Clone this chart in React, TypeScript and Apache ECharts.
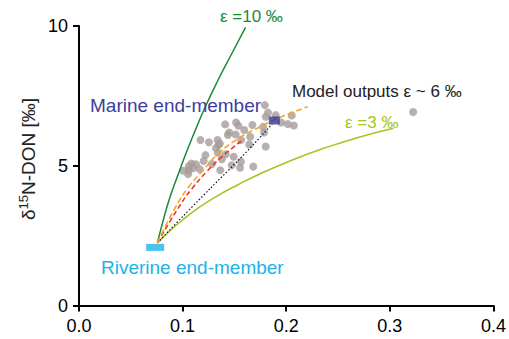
import React, { useEffect, useRef } from "react";
import * as echarts from "echarts";

// x ticks / y ticks
const xTicks = [0, 0.1, 0.2, 0.3, 0.4];
const yTicks = [0, 5, 10];

// observed samples [x, δ15N-DON]
const samples: number[][] = [
  [0.1793, 7.17], [0.1824, 6.9], [0.1802, 6.75], [0.1898, 6.81], [0.1951, 6.55],
  [0.2015, 6.49], [0.2073, 6.44], [0.2053, 6.8], [0.1777, 6.39], [0.1786, 6.19],
  [0.1802, 5.69], [0.1681, 4.97], [0.3225, 6.92], [0.1411, 6.48], [0.1516, 6.55],
  [0.1538, 6.43], [0.1674, 6.46], [0.1595, 6.28], [0.1449, 6.19], [0.1436, 6.1],
  [0.1512, 6.12], [0.1652, 6.04], [0.1172, 5.92], [0.1254, 5.84], [0.1337, 5.92],
  [0.1359, 5.8], [0.1347, 5.74], [0.1321, 5.63], [0.1564, 5.92], [0.1643, 5.76],
  [0.134, 5.46], [0.1416, 5.41], [0.122, 5.38], [0.1493, 5.32], [0.1203, 5.17],
  [0.1378, 5.23], [0.1086, 5.08], [0.113, 5.05], [0.106, 4.99], [0.1101, 4.91],
  [0.106, 4.84], [0.1006, 4.82], [0.1165, 4.88], [0.1283, 5.06], [0.1363, 4.84],
  [0.1474, 5.02], [0.1563, 5.14], [0.1554, 4.93], [0.1053, 4.7],
];

// curves
const eps10: number[][] = [
  [0.0757, 2.24], [0.082, 3.15], [0.088, 3.9], [0.095, 4.62], [0.103, 5.42],
  [0.112, 6.25], [0.122, 7.12], [0.134, 8.05], [0.147, 8.98], [0.1607, 9.95],
];
const eps3: number[][] = [
  [0.0757, 2.24], [0.087, 2.65], [0.0996, 3.05], [0.1156, 3.5], [0.1315, 3.88],
  [0.1538, 4.33], [0.1729, 4.68], [0.2047, 5.19], [0.2366, 5.63], [0.2684, 6.0],
  [0.3034, 6.34],
];
const modelOrange: number[][] = [
  [0.0757, 2.24], [0.0933, 3.53], [0.106, 4.25], [0.1203, 4.86], [0.1347, 5.44],
  [0.1538, 5.98], [0.1729, 6.36], [0.192, 6.7], [0.2206, 7.11],
];
const modelRed: number[][] = [
  [0.0757, 2.24], [0.0965, 3.53], [0.1092, 4.19], [0.1235, 4.8], [0.1378, 5.32],
  [0.1585, 5.94],
];
const mixingLine: number[][] = [
  [0.0757, 2.24], [0.1092, 3.53], [0.1442, 4.84], [0.1633, 5.56], [0.1865, 6.5],
];

const riverine: number[][] = [[0.0735, 2.08]];
const marine: number[][] = [[0.1885, 6.62]];

const FONT = "'Liberation Sans', Arial, Helvetica, sans-serif";

function txt(text: string, x: number, y: number, color: string, size: number) {
  return {
    type: "text",
    x,
    y,
    z: 20,
    style: {
      text,
      fill: color,
      font: `${size}px ${FONT}`,
      align: "left",
      verticalAlign: "middle",
      textAlign: "left",
      textVerticalAlign: "middle",
    },
  };
}

export default function App() {
  const ref = useRef<HTMLDivElement>(null);
  useEffect(() => {
    if (!ref.current) return;
    document.body.style.margin = "0";
    const chart = echarts.init(ref.current, undefined, { renderer: "svg" });
    const axisCommon = {
      splitLine: { show: false },
      axisLine: { show: true, onZero: false, lineStyle: { color: "#000", width: 2 } },
      axisTick: { show: true, inside: false, length: 6, lineStyle: { color: "#000", width: 2 } },
      axisLabel: { color: "#000", fontSize: 18, fontFamily: FONT, margin: 11 },
    };
    const line = (name: string, data: number[][], color: string, width: number, type: any) => ({
      name,
      type: "line",
      data,
      smooth: 0.5,
      showSymbol: false,
      symbol: "none",
      z: 3,
      lineStyle: { color, width, type },
    });
    chart.setOption({
      animation: false,
      grid: { left: 79, right: 11, top: 26, bottom: 33.5, containLabel: false },
      xAxis: {
        type: "value",
        min: xTicks[0],
        max: xTicks[xTicks.length - 1],
        interval: 0.1,
        ...axisCommon,
        axisLabel: { ...axisCommon.axisLabel, formatter: (v: number) => v.toFixed(1) },
      },
      yAxis: {
        type: "value",
        min: yTicks[0],
        max: yTicks[yTicks.length - 1],
        interval: 5,
        ...axisCommon,
      },
      series: [
        {
          name: "samples",
          type: "scatter",
          data: samples,
          symbolSize: 8,
          z: 2,
          itemStyle: { color: "#a69c9a" },
        },
        line("ε=10", eps10, "#1b8a3a", 1.5, "solid"),
        line("ε=3", eps3, "#a3c520", 1.5, "solid"),
        line("mixing", mixingLine, "#111", 1.2, [1.5, 2]),
        line("model red", modelRed, "#ee3522", 1.6, [5, 3]),
        line("model orange", modelOrange, "#f7a423", 1.6, [6, 3]),
        {
          name: "Riverine end-member",
          type: "scatter",
          data: riverine,
          symbol: "rect",
          symbolSize: [18, 7],
          z: 6,
          itemStyle: { color: "#19b4e8" },
        },
        {
          name: "Marine end-member",
          type: "scatter",
          data: marine,
          symbol: "rect",
          symbolSize: [11, 8],
          z: 6,
          itemStyle: { color: "#33339a" },
        },
      ],
      graphic: [
        txt("ε =10 ‰", 220, 16, "#1b8a3a", 17),
        txt("Model outputs ε ~ 6 ‰", 292, 91, "#222", 17),
        txt("ε =3 ‰", 345, 122, "#a3c520", 17),
        txt("Marine end-member", 90, 105, "#3d3d9e", 19),
        txt("Riverine end-member", 101, 267, "#1ab4e8", 19),
        {
          type: "text",
          x: 28,
          y: 159,
          rotation: Math.PI / 2,
          z: 20,
          style: {
            text: "{a|δ}{s|15}{a|N-DON [‰]}",
            fill: "#222",
            font: `19px ${FONT}`,
            align: "center",
            verticalAlign: "middle",
            textAlign: "center",
            textVerticalAlign: "middle",
            rich: {
              a: { fontSize: 19, lineHeight: 23, fontFamily: FONT, fill: "#222", color: "#222" },
              s: { fontSize: 13, lineHeight: 15, fontFamily: FONT, fill: "#222", color: "#222", verticalAlign: "top" },
            },
          },
        },
      ],
    });
    return () => chart.dispose();
  }, []);
  return (
    <div
      ref={ref}
      style={{ position: "absolute", left: 0, top: 0, width: 509, height: 339 }}
    />
  );
}
